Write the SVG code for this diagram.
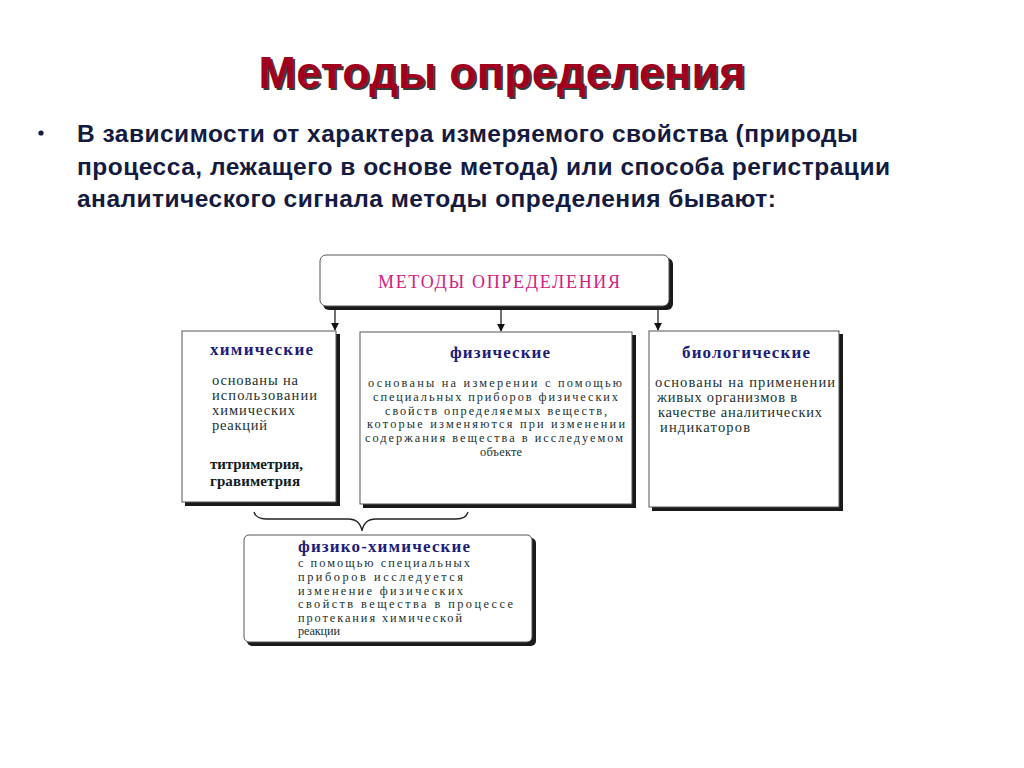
<svg xmlns="http://www.w3.org/2000/svg" width="1024" height="768" viewBox="0 0 1024 768">
<defs>
<style>
.ttl{font-family:"Liberation Sans",Arial,sans-serif;font-weight:bold;font-size:45px;fill:#a0001e}
.ttlsh{font-family:"Liberation Sans",Arial,sans-serif;font-weight:bold;font-size:45px;fill:#3a3a3a}
.bul{font-family:"Liberation Sans",Arial,sans-serif;font-weight:bold;font-size:24.5px;fill:#141a40}
.box{fill:#ffffff;stroke:#555555;stroke-width:1}
.sh{fill:#1a1a1a}
.hd{font-family:"Liberation Serif","Times New Roman",serif;font-weight:bold;font-size:17px;fill:#1c1c7a}
.tx{font-family:"Liberation Serif","Times New Roman",serif;font-size:14.5px;fill:#203030}
.txs{font-family:"Liberation Serif","Times New Roman",serif;font-size:12.3px;fill:#203030}
.txb{font-family:"Liberation Serif","Times New Roman",serif;font-weight:bold;font-size:15px;fill:#102020}
.top{font-family:"Liberation Serif","Times New Roman",serif;font-size:18px;fill:#d4207e}
.ln{stroke:#222222;stroke-width:1.3;fill:none}
</style>
<marker id="ar" viewBox="0 0 10 10" refX="9" refY="5" markerWidth="8" markerHeight="8" orient="auto" markerUnits="userSpaceOnUse">
<path d="M0,0 L10,5 L0,10 z" fill="#111111"/>
</marker>
</defs>
<rect width="1024" height="768" fill="#ffffff"/>

<g id="title">
<text class="ttlsh" x="504" y="90" text-anchor="middle" textLength="487">Методы определения</text>
<text class="ttl" x="502" y="88" text-anchor="middle" textLength="487">Методы определения</text>
</g>

<g id="intro">
<circle cx="41" cy="133" r="2.6" fill="#141a40"/>
<text class="bul" x="77" y="142" textLength="781">В зависимости от характера измеряемого свойства (природы</text>
<text class="bul" x="77" y="175" textLength="813">процесса, лежащего в основе метода) или способа регистрации</text>
<text class="bul" x="77" y="207" textLength="699">аналитического сигнала методы определения бывают:</text>
</g>

<g id="connectors">
<line class="ln" x1="335" y1="307" x2="335" y2="330" marker-end="url(#ar)"/>
<line class="ln" x1="501" y1="307" x2="501" y2="331" marker-end="url(#ar)"/>
<line class="ln" x1="658" y1="307" x2="658" y2="330" marker-end="url(#ar)"/>
<path class="ln" d="M254,512 Q256,519 266,519 L348,519 Q360,519 362,531 Q364,519 376,519 L456,519 Q466,519 468,512"/>
</g>

<g id="node-top">
<rect class="sh" x="323" y="258" width="350" height="52" rx="6"/>
<rect class="box" x="320" y="255" width="349" height="51" rx="6"/>
<text class="top" x="378" y="288" textLength="242">МЕТОДЫ ОПРЕДЕЛЕНИЯ</text>
</g>

<g id="node-chem">
<rect class="sh" x="185" y="334" width="155" height="172"/>
<rect class="box" x="182" y="331" width="154" height="171"/>
<text class="hd" x="210" y="355" textLength="103">химические</text>
<text class="tx" x="212" y="385" textLength="86">основаны на</text>
<text class="tx" x="212" y="400" textLength="105">использовании</text>
<text class="tx" x="212" y="415" textLength="83">химических</text>
<text class="tx" x="212" y="430" textLength="55">реакций</text>
<text class="txb" x="210" y="469" textLength="93">титриметрия,</text>
<text class="txb" x="210" y="486" textLength="90">гравиметрия</text>
</g>

<g id="node-phys">
<rect class="sh" x="363" y="335" width="273" height="173"/>
<rect class="box" x="360" y="332" width="272" height="172"/>
<text class="hd" x="450" y="358" textLength="100">физические</text>
<text class="txs" x="368" y="387" textLength="254">основаны на измерении с помощью</text>
<text class="txs" x="373" y="401" textLength="245">специальных приборов физических</text>
<text class="txs" x="385" y="415" textLength="222">свойств определяемых веществ,</text>
<text class="txs" x="367" y="428" textLength="258">которые изменяются при изменении</text>
<text class="txs" x="365" y="442" textLength="258">содержания вещества в исследуемом</text>
<text class="txs" x="480" y="456" textLength="42">объекте</text>
</g>

<g id="node-bio">
<rect class="sh" x="652" y="334" width="191" height="177"/>
<rect class="box" x="649" y="331" width="190" height="176"/>
<text class="hd" x="682" y="358" textLength="128">биологические</text>
<text class="tx" x="655" y="387" textLength="180">основаны на применении</text>
<text class="tx" x="657" y="402" textLength="140">живых организмов в</text>
<text class="tx" x="658" y="417" textLength="164">качестве аналитических</text>
<text class="tx" x="660" y="432" textLength="90">индикаторов</text>
</g>

<g id="node-physchem">
<rect class="sh" x="247" y="538" width="289" height="108" rx="5"/>
<rect class="box" x="244" y="535" width="288" height="107" rx="5"/>
<text class="hd" x="298" y="552" textLength="172">физико-химические</text>
<text class="txs" x="298" y="567" textLength="172">с помощью специальных</text>
<text class="txs" x="298" y="581" textLength="165">приборов исследуется</text>
<text class="txs" x="298" y="594.5" textLength="165">изменение физических</text>
<text class="txs" x="298" y="608" textLength="215">свойств вещества в процессе</text>
<text class="txs" x="298" y="621.5" textLength="164">протекания химической</text>
<text class="txs" x="298" y="635" textLength="42">реакции</text>
</g>
</svg>
